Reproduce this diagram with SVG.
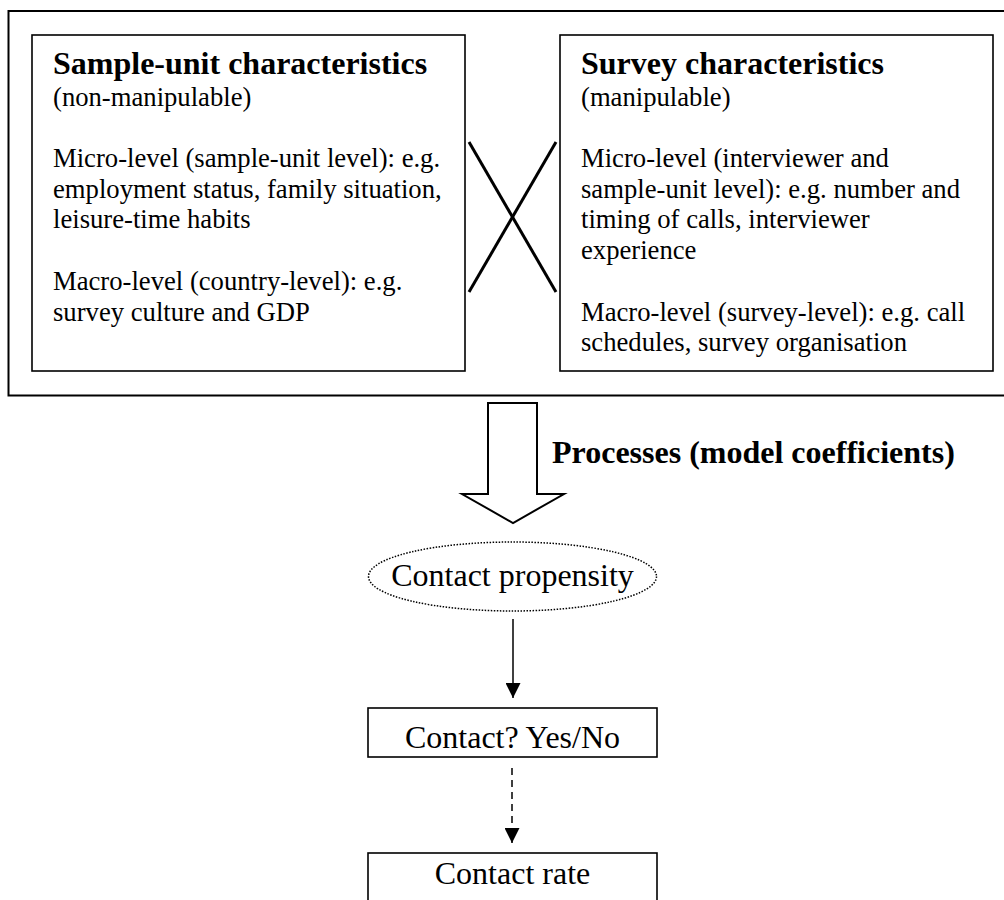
<svg xmlns="http://www.w3.org/2000/svg" width="1004" height="900" viewBox="0 0 1004 900">
<style>
text{font-family:"Liberation Serif","Times New Roman",serif;fill:#000}
.t{font-size:32px;font-weight:bold}
.b{font-size:26.67px}
.c{font-size:32px;text-anchor:middle}
.box{fill:#fff;stroke:#000;stroke-width:1.6}
.ln{stroke:#000;fill:none}
</style>
<defs>
<marker id="ah" markerWidth="16" markerHeight="15" refX="15" refY="7.5" orient="auto" markerUnits="userSpaceOnUse">
<path d="M0,0 L15,7.5 L0,15 z" fill="#000"/>
</marker>
</defs>
<rect width="1004" height="900" fill="#fff"/>
<g id="outer">
<path d="M1010,11 H8.5 V395.5 H1010" class="ln" stroke-width="2"/>
</g>
<g id="sample-unit">
<rect x="32" y="35" width="433" height="336" class="box"/>
<text x="53" y="74" class="t">Sample-unit characteristics</text>
<text x="53" y="106" class="b">(non-manipulable)</text>
<text x="53" y="167" class="b">Micro-level (sample-unit level): e.g.</text>
<text x="53" y="197.7" class="b">employment status, family situation,</text>
<text x="53" y="228.4" class="b">leisure-time habits</text>
<text x="53" y="289.8" class="b">Macro-level (country-level): e.g.</text>
<text x="53" y="320.5" class="b">survey culture and GDP</text>
</g>
<g id="survey">
<rect x="560" y="35" width="433" height="336" class="box"/>
<text x="581" y="74" class="t">Survey characteristics</text>
<text x="581" y="106" class="b">(manipulable)</text>
<text x="581" y="167" class="b">Micro-level (interviewer and</text>
<text x="581" y="197.7" class="b">sample-unit level): e.g. number and</text>
<text x="581" y="228.4" class="b">timing of calls, interviewer</text>
<text x="581" y="259.1" class="b">experience</text>
<text x="581" y="320.5" class="b">Macro-level (survey-level): e.g. call</text>
<text x="581" y="351.2" class="b">schedules, survey organisation</text>
</g>
<g id="cross">
<line x1="469" y1="142" x2="556" y2="292" class="ln" stroke-width="3"/>
<line x1="469" y1="292" x2="556" y2="142" class="ln" stroke-width="3"/>
</g>
<g id="processes">
<polygon points="488,403 537,403 537,494 564,494 513,523 462,494 488,494" fill="#fff" stroke="#000" stroke-width="2"/>
<text x="552" y="463" class="t">Processes (model coefficients)</text>
</g>
<g id="propensity">
<ellipse cx="512.5" cy="576.5" rx="144" ry="34.5" fill="none" stroke="#000" stroke-width="1.5" stroke-dasharray="1.5 1.5"/>
<text x="512.5" y="586" class="c">Contact propensity</text>
</g>
<g id="contact">
<rect x="368" y="708" width="289" height="49" class="box"/>
<text x="512.5" y="748" class="c">Contact? Yes/No</text>
</g>
<g id="rate">
<rect x="368" y="853" width="289" height="60" class="box"/>
<text x="512.5" y="884" class="c">Contact rate</text>
</g>
<g id="connectors">
<line x1="513" y1="619" x2="513" y2="698" class="ln" stroke-width="1.5" marker-end="url(#ah)"/>
<line x1="512" y1="768" x2="512" y2="843" class="ln" stroke-width="1.5" stroke-dasharray="7 5" marker-end="url(#ah)"/>
</g>
</svg>
